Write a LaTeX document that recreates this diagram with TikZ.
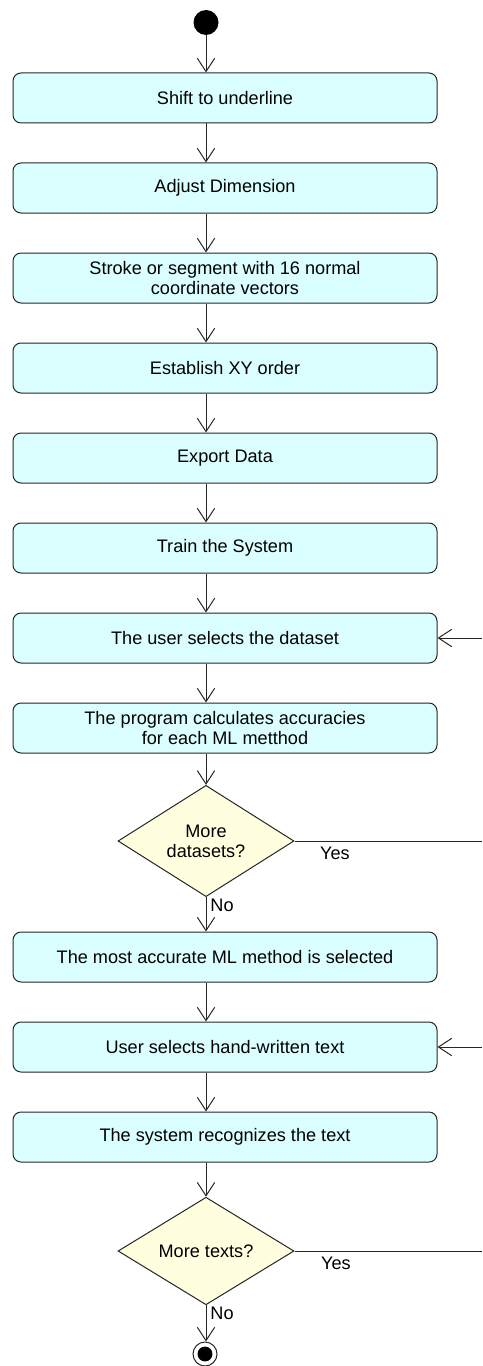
\documentclass[tikz,border=0pt]{standalone}
\usepackage{fontspec}
\setmainfont{Liberation Sans}
\usetikzlibrary{shapes.geometric,arrows.meta}
\definecolor{actfill}{RGB}{219,255,255}
\definecolor{decfill}{RGB}{255,255,224}
\begin{document}
\begin{tikzpicture}[x=0.75pt,y=-0.75pt,
  every node/.style={font=\fontsize{13.6}{15}\selectfont},
  act/.style={draw=black!85, fill=actfill, rounded corners=6pt, line width=0.75pt,
    minimum width=318pt, minimum height=37.5pt, align=center, inner sep=0pt},
  dec/.style={draw=black!85, fill=decfill, diamond, line width=0.75pt,
    minimum width=132pt, minimum height=73.5pt, align=center, inner sep=0pt},
  flow/.style={draw=black!85, line width=0.75pt, -{Straight Barb[length=10pt,width=13pt]}}]
\useasboundingbox (0,0) rectangle (482,1366);
%\draw[step=10,gray,very thin] (0,0) grid (482,1366);
\node[circle, fill=black, minimum size=18.75pt, inner sep=0pt] (start) at (206,22.5) {};
\node[act] (b1) at (225,98) {Shift to underline};
\node[act] (b2) at (225,188) {Adjust Dimension};
\node[act] (b3) at (225,278) {Stroke or segment with 16 normal\\coordinate vectors};
\node[act] (b4) at (225,368) {Establish XY order};
\node[act] (b5) at (225,458) {Export Data};
\node[act] (b6) at (225,548) {Train the System};
\node[act] (b7) at (225,638) {The user selects the dataset};
\node[act] (b8) at (225,728) {The program calculates accuracies\\for each ML metthod};
\node[dec] (d1) at (206,841) {More\\datasets?};
\node[act] (b9) at (225,957) {The most accurate ML method is selected};
\node[act] (b10) at (225,1047) {User selects hand-written text};
\node[act] (b11) at (225,1137) {The system recognizes the text};
\node[dec] (d2) at (206,1251) {More texts?};
\node[circle, draw=black!85, line width=0.75pt, minimum size=18pt, inner sep=0pt] (stop) at (205,1354) {};
\fill[black] (stop.center) circle (5.6pt);
\coordinate (rt) at (482,0);
% main flow
\draw[flow] (start) -- (b1.north -| start);
\draw[flow] (b1.south -| start) -- (b2.north -| start);
\draw[flow] (b2.south -| start) -- (b3.north -| start);
\draw[flow] (b3.south -| start) -- (b4.north -| start);
\draw[flow] (b4.south -| start) -- (b5.north -| start);
\draw[flow] (b5.south -| start) -- (b6.north -| start);
\draw[flow] (b6.south -| start) -- (b7.north -| start);
\draw[flow] (b7.south -| start) -- (b8.north -| start);
\draw[flow] (b8.south -| d1) -- (d1.north);
\draw[flow] (d1.south) -- (b9.north -| d1);
\draw[flow] (b9.south -| d1) -- (b10.north -| d1);
\draw[flow] (b10.south -| d1) -- (b11.north -| d1);
\draw[flow] (b11.south -| d2) -- (d2.north);
\draw[flow] (d2.south) -- (stop.north -| d2);
% loops back
\draw[draw=black!85, line width=0.75pt] (d1.east) -- (d1.east -| rt);
\draw[flow] (b7.east -| rt) -- (b7.east);
\draw[draw=black!85, line width=0.75pt] (d2.east) -- (d2.east -| rt);
\draw[flow] (b10.east -| rt) -- (b10.east);
\node[] (y1) at (335,853) {Yes};
\node[] (n1) at (222,905) {No};
\node[] (y2) at (336,1263) {Yes};
\node[] (n2) at (222,1313) {No};
\end{tikzpicture}
\end{document}
